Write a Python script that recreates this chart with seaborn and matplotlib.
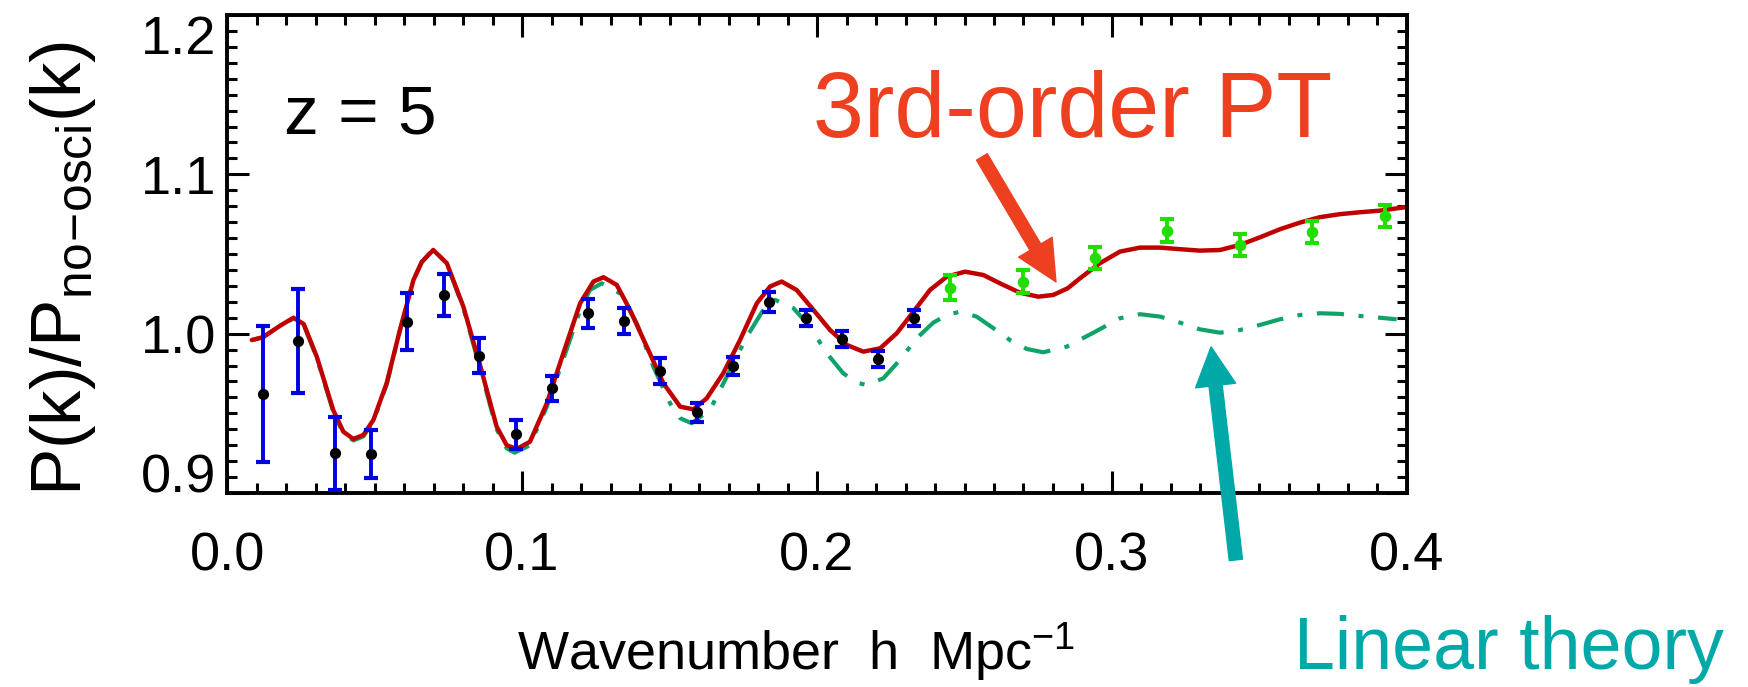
import matplotlib
matplotlib.use("Agg")
import matplotlib.pyplot as plt
from matplotlib.ticker import MultipleLocator
import seaborn as sns


# simulation points (z=5), blue error bars with black dots
k_sim = [0.0121, 0.0242, 0.0366, 0.0488, 0.0611, 0.0734, 0.0855, 0.0980, 0.1102, 0.1225,
         0.1347, 0.1469, 0.1592, 0.1716, 0.1838, 0.1962, 0.2084, 0.2206, 0.2329]
ratio_sim = [0.9621, 0.9954, 0.9249, 0.9245, 1.0075, 1.0243, 0.9860, 0.9368, 0.9657, 1.0128,
             1.0078, 0.9766, 0.9507, 0.9797, 1.0197, 1.0097, 0.9965, 0.9841, 1.0097]
err_sim = [0.0428, 0.0328, 0.0230, 0.0150, 0.0180, 0.0130, 0.0110, 0.0090, 0.0080, 0.0090,
           0.0080, 0.0080, 0.0060, 0.0055, 0.0064, 0.0050, 0.0050, 0.0050, 0.0050]

# points beyond the fitting range, green
k_ext = [0.2451, 0.2697, 0.2942, 0.3187, 0.3434, 0.3679, 0.3925]
ratio_ext = [1.0289, 1.0327, 1.0473, 1.0647, 1.0557, 1.0637, 1.0739]
err_ext = [0.008, 0.007, 0.007, 0.007, 0.007, 0.007, 0.007]

# 3rd-order PT curve
k_pt = [0.0084, 0.0121, 0.0180, 0.0225, 0.0260, 0.0304, 0.0360, 0.0394, 0.0428, 0.0462,
        0.0496, 0.0541, 0.0586, 0.0632, 0.0660, 0.0699, 0.0745, 0.0801, 0.0858, 0.0914,
        0.0948, 0.0982, 0.1027, 0.1084, 0.1140, 0.1197, 0.1242, 0.1276, 0.1321, 0.1366,
        0.1423, 0.1479, 0.1536, 0.1581, 0.1626, 0.1682, 0.1739, 0.1796, 0.1841, 0.1880,
        0.1931, 0.1988, 0.2044, 0.2101, 0.2157, 0.2214, 0.2270, 0.2327, 0.2383, 0.2440,
        0.2502, 0.2564, 0.2620, 0.2688, 0.2750, 0.2801, 0.2850, 0.2892, 0.2959, 0.3027,
        0.3095, 0.3163, 0.3231, 0.3298, 0.3366, 0.3434, 0.3502, 0.3569, 0.3637, 0.3705,
        0.3773, 0.3841, 0.3908, 0.4000]
ratio_pt = [0.9960, 0.9977, 1.0050, 1.0100, 1.0060, 0.9856, 0.9520, 0.9385, 0.9339, 0.9364,
            0.9458, 0.9689, 1.0023, 1.0337, 1.0450, 1.0525, 1.0442, 1.0170, 0.9800, 0.9416,
            0.9300, 0.9276, 0.9322, 0.9563, 0.9877, 1.0191, 1.0327, 1.0354, 1.0306, 1.0149,
            0.9918, 0.9689, 0.9542, 0.9525, 0.9594, 0.9751, 0.9960, 1.0191, 1.0296, 1.0327,
            1.0274, 1.0149, 1.0023, 0.9929, 0.9887, 0.9908, 1.0002, 1.0138, 1.0274, 1.0358,
            1.0389, 1.0368, 1.0316, 1.0257, 1.0232, 1.0243, 1.0285, 1.0348, 1.0442, 1.0515,
            1.0540, 1.0540, 1.0530, 1.0521, 1.0525, 1.0557, 1.0605, 1.0655, 1.0697, 1.0731,
            1.0750, 1.0762, 1.0772, 1.0795]

# linear theory curve
k_lin = [0.0084, 0.0121, 0.0180, 0.0225, 0.0260, 0.0304, 0.0360, 0.0394, 0.0428, 0.0462,
         0.0496, 0.0541, 0.0586, 0.0632, 0.0660, 0.0699, 0.0745, 0.0801, 0.0858, 0.0914,
         0.0948, 0.0975, 0.1027, 0.1084, 0.1140, 0.1197, 0.1230, 0.1270, 0.1332, 0.1389,
         0.1445, 0.1502, 0.1536, 0.1575, 0.1637, 0.1694, 0.1762, 0.1818, 0.1858, 0.1920,
         0.1976, 0.2033, 0.2089, 0.2135, 0.2168, 0.2225, 0.2281, 0.2338, 0.2394, 0.2440,
         0.2485, 0.2541, 0.2598, 0.2654, 0.2711, 0.2767, 0.2846, 0.2937, 0.3027, 0.3095,
         0.3163, 0.3231, 0.3298, 0.3366, 0.3434, 0.3502, 0.3569, 0.3637, 0.3705, 0.3773,
         0.3841, 0.3908, 0.3965]
ratio_lin = [0.9960, 0.9977, 1.0050, 1.0095, 1.0055, 0.9850, 0.9510, 0.9375, 0.9330, 0.9355,
             0.9450, 0.9680, 1.0020, 1.0335, 1.0450, 1.0530, 1.0440, 1.0160, 0.9780, 0.9400,
             0.9280, 0.9253, 0.9300, 0.9542, 0.9840, 1.0149, 1.0274, 1.0316, 1.0253, 1.0065,
             0.9793, 0.9563, 0.9469, 0.9438, 0.9521, 0.9730, 0.9981, 1.0149, 1.0212, 1.0160,
             1.0044, 0.9877, 0.9751, 0.9692, 0.9678, 0.9720, 0.9835, 0.9971, 1.0069, 1.0117,
             1.0138, 1.0107, 1.0034, 0.9960, 0.9904, 0.9883, 0.9918, 1.0006, 1.0097, 1.0122,
             1.0107, 1.0069, 1.0027, 1.0006, 1.0023, 1.0055, 1.0090, 1.0117, 1.0128, 1.0124,
             1.0111, 1.0100, 1.0090]

x_ticks = [0.0, 0.1, 0.2, 0.3, 0.4]
x_ticklabels = ["0.0", "0.1", "0.2", "0.3", "0.4"]
y_ticks = [0.9, 1.0, 1.1, 1.2]
y_ticklabels = ["0.9", "1.0", "1.1", "1.2"]

style = {
    "pt_color": "#c00000",
    "lin_color": "#0fa36a",
    "sim_bar": "#0000e0",
    "ext_color": "#22dd00",
    "pt_label": "#ee4020",
    "lin_label": "#00a8a8",
    "tick_size": 39,
}

sns.set_theme(style="ticks")
plt.rcParams["font.family"] = ["Liberation Sans", "DejaVu Sans"]
plt.rcParams["mathtext.fontset"] = "custom"
plt.rcParams["mathtext.rm"] = "Liberation Sans"
plt.rcParams["mathtext.it"] = "Liberation Sans"

fig = plt.figure(figsize=(17.48, 6.87), dpi=100)
ax = fig.add_axes([0.1299, 0.2824, 0.675, 0.6958])

sns.lineplot(x=k_lin, y=ratio_lin, ax=ax, color=style["lin_color"], lw=3.0,
             linestyle=(0, (6.5, 3.5, 1.2, 3.5)), sort=False, zorder=2)
sns.lineplot(x=k_pt, y=ratio_pt, ax=ax, color=style["pt_color"], lw=3.2, sort=False, zorder=2.5)

ax.errorbar(k_sim, ratio_sim, yerr=err_sim, fmt="none", ecolor=style["sim_bar"],
            elinewidth=2.8, capsize=4.8, capthick=3.0, zorder=3)
sns.scatterplot(x=k_sim, y=ratio_sim, ax=ax, color="black", s=65, linewidth=0, zorder=4)
ax.errorbar(k_ext, ratio_ext, yerr=err_ext, fmt="none", ecolor=style["ext_color"],
            elinewidth=2.8, capsize=4.8, capthick=3.0, zorder=3)
sns.scatterplot(x=k_ext, y=ratio_ext, ax=ax, color=style["ext_color"], s=70, linewidth=0, zorder=4)

ax.set_xlim(0, 0.4)
ax.set_ylim(0.9, 1.2)
ax.set_xticks(x_ticks)
ax.set_xticklabels(x_ticklabels)
ax.set_yticks(y_ticks)
ylabels = ax.set_yticklabels(y_ticklabels)
ylabels[0].set_verticalalignment("baseline")
ylabels[-1].set_verticalalignment("top")
ax.xaxis.set_minor_locator(MultipleLocator(0.01))
ax.yaxis.set_minor_locator(MultipleLocator(0.01))
ax.tick_params(which="both", direction="in", top=True, right=True, color="black",
               labelsize=style["tick_size"], labelcolor="black")
ax.tick_params(which="major", length=16, width=2.2)
ax.tick_params(which="minor", length=7, width=2.2)
ax.tick_params(axis="x", pad=28)
ax.tick_params(axis="y", pad=8)
for spine in ax.spines.values():
    spine.set_linewidth(2.8)
    spine.set_color("black")

ax.set_xlabel("Wavenumber  h  Mpc$^{-1}$", fontsize=39, color="black")
ax.xaxis.set_label_coords(0.482, -0.268)
ax.set_ylabel("P(k)/P$_{\\rm no\\!-\\!osci}$(k)", fontsize=51, color="black")
ax.yaxis.set_label_coords(-0.109, 0.47)

ax.text(0.0193, 1.1254, "z = 5", fontsize=50, va="baseline", color="black")

ax.text(0.2868, 1.1235, "3rd-order PT", fontsize=66, color=style["pt_label"],
        ha="center", va="baseline")
ax.annotate("", xy=(0.281, 1.0325), xytext=(0.2559, 1.1109), annotation_clip=False,
            arrowprops=dict(arrowstyle="simple,head_length=2.9,head_width=2.8,tail_width=0.9",
                            mutation_scale=10, color=style["pt_label"], shrinkA=0, shrinkB=0))
ax.text(0.4345, 0.7895, "Linear theory", fontsize=53, color=style["lin_label"],
        ha="center", va="baseline", clip_on=False)
ax.annotate("", xy=(0.3336, 0.9917), xytext=(0.342, 0.858), annotation_clip=False,
            arrowprops=dict(arrowstyle="simple,head_length=2.8,head_width=2.9,tail_width=0.95",
                            mutation_scale=10, color=style["lin_label"], shrinkA=0, shrinkB=0))

fig.savefig("out.png", dpi=100)
